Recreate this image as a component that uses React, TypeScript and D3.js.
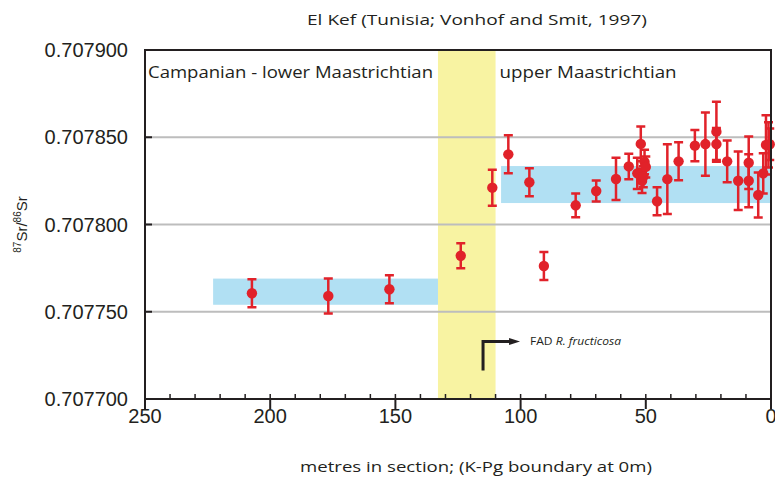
import { useEffect, useRef } from "react";
import * as d3 from "d3";

// depth below K-Pg boundary (m), 87Sr/86Sr and 2-sigma error
const depths = [
  207.3, 176.8, 152.4, 123.9, 111.3, 104.9, 96.5, 90.7, 78.0, 69.8, 61.9, 56.8,
  53.4, 52.0, 51.5, 51.0, 50.5, 50.0, 45.5, 41.4, 36.9, 30.4, 26.2, 21.8, 21.8,
  17.5, 13.1, 8.9, 8.9, 5.1, 3.1, 2.0, 1.0, 0.5,
];
const srValues = [
  0.7077606, 0.707759, 0.7077629, 0.7077821, 0.7078211, 0.7078402, 0.7078242,
  0.7077762, 0.707811, 0.7078192, 0.7078261, 0.7078333, 0.7078293, 0.7078462,
  0.707825, 0.7078274, 0.7078358, 0.707833, 0.7078133, 0.707826, 0.7078362,
  0.7078452, 0.7078461, 0.7078532, 0.7078461, 0.7078362, 0.7078251, 0.7078354,
  0.7078251, 0.7078169, 0.7078293, 0.7078456, 0.7078456, 0.707846,
];
const srErrors = [
  0.000008, 0.00001, 0.000008, 0.0000072, 0.0000103, 0.0000109, 0.000008,
  0.000008, 0.0000068, 0.000006, 0.0000121, 0.0000073, 0.0000089, 0.00001,
  0.000007, 0.000006, 0.000007, 0.000006, 0.000008, 0.00002, 0.0000109,
  0.000009, 0.0000181, 0.0000172, 0.0000092, 0.000012, 0.0000168, 0.000015,
  0.0000152, 0.0000129, 0.0000115, 0.000017, 0.000013, 0.000009,
];

// mean bands: [from m, to m, low, high]
const lowerBand = [222.8, 133, 0.707754, 0.707769];
const upperBand = [107.8, 0, 0.7078123, 0.7078335];
// boundary interval (yellow)
const boundaryZone = [133, 110];

const yTicks = [0.7077, 0.70775, 0.7078, 0.70785, 0.7079];
const xTicks = [250, 200, 150, 100, 50, 0];
const xMinorTicks = d3.range(0, 251, 10);

const title = "El Kef (Tunisia; Vonhof and Smit, 1997)";
const xTitle = "metres in section; (K-Pg boundary at 0m)";
const leftPeriod = "Campanian - lower Maastrichtian";
const rightPeriod = "upper Maastrichtian";
const fadDepth = 115;
const fadLevel = 0.707733;

const RED = "#e1222a";
const BLUE = "#b1e0f3";
const YELLOW = "#f8f3a2";
const INK = "#231f20";
const GRID = "#bdbdbd";
const SANS = "'Liberation Sans', Arial, sans-serif";
const MYRIAD = "'Open Sans', 'Noto Sans', sans-serif";

export default function App() {
  const ref = useRef<SVGSVGElement | null>(null);

  useEffect(() => {
    const svg = d3.select(ref.current);
    svg.selectAll("*").remove();

    const width = 775;
    const height = 481;
    const margin = { top: 50, right: 4, bottom: 82, left: 145 };
    const innerW = width - margin.left - margin.right;
    const innerH = height - margin.top - margin.bottom;

    const x = d3.scaleLinear().domain([250, 0]).range([0, innerW]);
    const y = d3.scaleLinear().domain([0.7077, 0.7079]).range([innerH, 0]);

    svg.attr("viewBox", `0 0 ${width} ${height}`);
    const g = svg
      .append("g")
      .attr("transform", `translate(${margin.left},${margin.top})`);

    // boundary zone
    g.append("rect")
      .attr("x", x(boundaryZone[0]))
      .attr("width", x(boundaryZone[1]) - x(boundaryZone[0]))
      .attr("y", 0)
      .attr("height", innerH)
      .attr("fill", YELLOW);

    // gridlines
    g.append("g")
      .selectAll("line")
      .data(yTicks.slice(1, -1))
      .enter()
      .append("line")
      .attr("x1", 0)
      .attr("x2", innerW)
      .attr("y1", (d) => y(d))
      .attr("y2", (d) => y(d))
      .attr("stroke", GRID)
      .attr("stroke-width", 2);

    // mean bands
    [lowerBand, upperBand].forEach((b) => {
      g.append("rect")
        .attr("x", x(b[0]))
        .attr("width", x(b[1]) - x(b[0]))
        .attr("y", y(b[3]))
        .attr("height", y(b[2]) - y(b[3]))
        .attr("fill", BLUE);
    });

    // period labels
    g.append("text")
      .attr("x", 3)
      .attr("y", 28)
      .attr("font-family", MYRIAD)
      .attr("font-size", 17)
      .attr("textLength", 285)
      .attr("lengthAdjust", "spacingAndGlyphs")
      .attr("fill", INK)
      .text(leftPeriod);
    g.append("text")
      .attr("x", x(boundaryZone[1]) + 4)
      .attr("y", 28)
      .attr("font-family", MYRIAD)
      .attr("font-size", 17)
      .attr("textLength", 177)
      .attr("lengthAdjust", "spacingAndGlyphs")
      .attr("fill", INK)
      .text(rightPeriod);

    // FAD marker
    const fx = x(fadDepth);
    const fy = y(fadLevel);
    g.append("path")
      .attr("d", `M${fx},${fy + 29} V${fy} H${fx + 28}`)
      .attr("fill", "none")
      .attr("stroke", INK)
      .attr("stroke-width", 3);
    g.append("path")
      .attr("d", `M${fx + 37},${fy} L${fx + 26},${fy - 3.5} L${fx + 26},${fy + 3.5} Z`)
      .attr("fill", INK);
    const fad = g
      .append("text")
      .attr("x", fx + 47)
      .attr("y", fy + 4)
      .attr("font-family", MYRIAD)
      .attr("font-size", 11.5)
      .attr("textLength", 91)
      .attr("lengthAdjust", "spacingAndGlyphs")
      .attr("fill", INK);
    fad.append("tspan").text("FAD ");
    fad.append("tspan").attr("font-style", "italic").text("R. fructicosa");

    // error bars + points
    const pts = depths.map((d, i) => ({ d, v: srValues[i], e: srErrors[i] }));
    const bars = g.append("g");
    pts.forEach((p) => {
      const cx = x(p.d);
      const y0 = y(p.v - p.e);
      const y1 = y(p.v + p.e);
      bars
        .append("path")
        .attr("d", `M${cx},${y0} V${y1} M${cx - 4.5},${y0} H${cx + 4.5} M${cx - 4.5},${y1} H${cx + 4.5}`)
        .attr("fill", "none")
        .attr("stroke", RED)
        .attr("stroke-width", 2.5);
    });
    g.append("g")
      .selectAll("circle")
      .data(pts)
      .enter()
      .append("circle")
      .attr("cx", (p) => x(p.d))
      .attr("cy", (p) => y(p.v))
      .attr("r", 5.2)
      .attr("fill", RED);

    // frame
    g.append("rect")
      .attr("x", 0)
      .attr("y", 0)
      .attr("width", innerW)
      .attr("height", innerH)
      .attr("fill", "none")
      .attr("stroke", INK)
      .attr("stroke-width", 2);

    // y axis: inward ticks
    const yAxis = g.append("g");
    yAxis
      .selectAll("line")
      .data(yTicks)
      .enter()
      .append("line")
      .attr("x1", 0)
      .attr("x2", 7)
      .attr("y1", (d) => y(d))
      .attr("y2", (d) => y(d))
      .attr("stroke", INK)
      .attr("stroke-width", 2);
    yAxis
      .selectAll("text")
      .data(yTicks)
      .enter()
      .append("text")
      .attr("x", -17)
      .attr("y", (d) => y(d))
      .attr("dy", "0.35em")
      .attr("text-anchor", "end")
      .attr("font-family", SANS)
      .attr("font-size", 20)
      .attr("fill", INK)
      .text((d) => d3.format(".6f")(d));

    // x axis: minor ticks inside, major ticks outside
    const xAxis = g.append("g").attr("transform", `translate(0,${innerH})`);
    xAxis
      .selectAll("line.minor")
      .data(xMinorTicks)
      .enter()
      .append("line")
      .attr("class", "minor")
      .attr("x1", (d) => x(d))
      .attr("x2", (d) => x(d))
      .attr("y1", 0)
      .attr("y2", -5)
      .attr("stroke", INK)
      .attr("stroke-width", 1.5);
    xAxis
      .selectAll("line.major")
      .data(xTicks)
      .enter()
      .append("line")
      .attr("class", "major")
      .attr("x1", (d) => x(d))
      .attr("x2", (d) => x(d))
      .attr("y1", 0)
      .attr("y2", 10)
      .attr("stroke", INK)
      .attr("stroke-width", 2);
    xAxis
      .selectAll("text")
      .data(xTicks)
      .enter()
      .append("text")
      .attr("x", (d) => x(d))
      .attr("y", 24)
      .attr("text-anchor", "middle")
      .attr("font-family", SANS)
      .attr("font-size", 20)
      .attr("fill", INK)
      .text((d) => String(d));

    // titles
    svg
      .append("text")
      .attr("x", 477)
      .attr("y", 25)
      .attr("text-anchor", "middle")
      .attr("font-family", MYRIAD)
      .attr("font-size", 15)
      .attr("textLength", 340)
      .attr("lengthAdjust", "spacingAndGlyphs")
      .attr("fill", INK)
      .text(title);
    svg
      .append("text")
      .attr("x", 476)
      .attr("y", 472)
      .attr("text-anchor", "middle")
      .attr("font-family", MYRIAD)
      .attr("font-size", 15)
      .attr("textLength", 352)
      .attr("lengthAdjust", "spacingAndGlyphs")
      .attr("fill", INK)
      .text(xTitle);

    const yl = svg
      .append("text")
      .attr("transform", `translate(27,${margin.top + innerH / 2}) rotate(-90)`)
      .attr("text-anchor", "middle")
      .attr("font-family", SANS)
      .attr("font-size", 15)
      .attr("fill", INK);
    yl.append("tspan").attr("font-size", 10).attr("dy", -6).text("87");
    yl.append("tspan").attr("dy", 6).text("Sr/");
    yl.append("tspan").attr("font-size", 10).attr("dy", -6).text("86");
    yl.append("tspan").attr("dy", 6).text("Sr");
  }, []);

  return (
    <svg
      ref={ref}
      width={775}
      height={481}
      style={{ position: "absolute", left: 0, top: 0, background: "#fff" }}
    />
  );
}
